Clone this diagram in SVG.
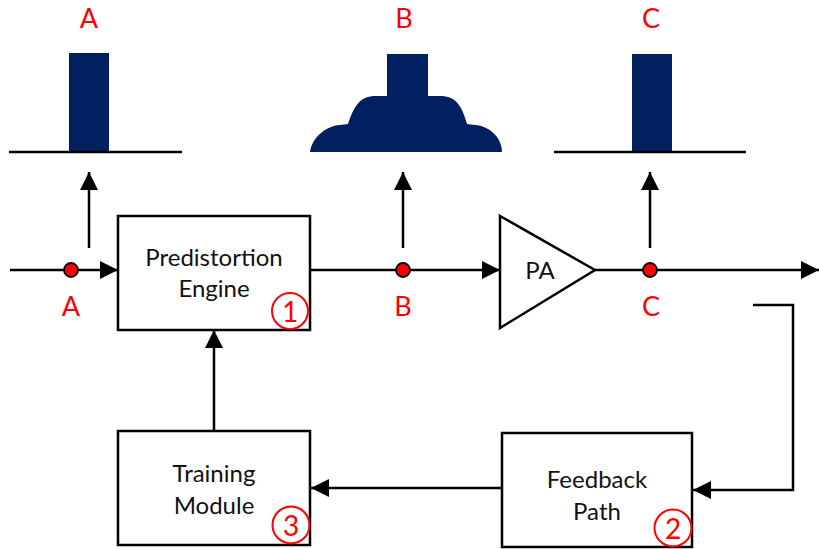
<svg xmlns="http://www.w3.org/2000/svg" width="819" height="549" viewBox="0 0 819 549">
  <style>
    .wire { fill: none; stroke: #000; stroke-width: 2.5; }
    .box { fill: #fff; stroke: #000; stroke-width: 2.5; }
    .spec { fill: #002060; }
    .base { fill: none; stroke: #000; stroke-width: 2.5; }
    .lbl { font-family: Lato, "Open Sans", sans-serif; font-size: 24px; fill: #111; text-anchor: middle; }
    .tag { font-family: Lato, "Open Sans", sans-serif; font-size: 27px; fill: #ff0000; text-anchor: middle; }
    .num { font-family: Lato, "Open Sans", sans-serif; font-size: 28px; fill: #ff0000; text-anchor: middle; }
    .ring { fill: none; stroke: #ff0000; stroke-width: 2; }
    .probe { fill: #ff0000; stroke: #000; stroke-width: 1.8; }
  </style>
  <defs>
    <marker id="arrow" markerUnits="userSpaceOnUse" markerWidth="18" markerHeight="18" viewBox="0 0 18 18" refX="18" refY="9" orient="auto">
      <path d="M0,0 L18,9 L0,18 Z" fill="#000"/>
    </marker>
  </defs>

  <rect width="819" height="549" fill="#fff"/>

  <!-- spectrum at A: single carrier -->
  <g id="spectrum-a">
    <text class="tag" x="89" y="28">A</text>
    <rect class="spec" x="69" y="53" width="40" height="99"/>
    <line class="base" x1="9" y1="152" x2="182" y2="152"/>
  </g>

  <!-- spectrum at B: carrier with predistortion sidebands -->
  <g id="spectrum-b">
    <text class="tag" x="404" y="28">B</text>
    <path class="spec" d="M310,152 C312,138 325,126 340,125 L348,124 C354,106 360,96 376,96 L387,96 L387,54 L428,54 L428,96 L440,96 C456,96 462,106 467,124 L475,125 C490,126 502,138 502,152 Z"/>
  </g>

  <!-- spectrum at C: linearised output -->
  <g id="spectrum-c">
    <text class="tag" x="651" y="28">C</text>
    <rect class="spec" x="632" y="54" width="40" height="98"/>
    <line class="base" x1="554" y1="152" x2="746" y2="152"/>
  </g>

  <!-- connectors -->
  <g id="connectors">
    <line class="wire" x1="10" y1="270" x2="118" y2="270" marker-end="url(#arrow)"/>
    <line class="wire" x1="310" y1="270" x2="500" y2="270" marker-end="url(#arrow)"/>
    <line class="wire" x1="595" y1="270" x2="819" y2="270" marker-end="url(#arrow)"/>
    <line class="wire" x1="89" y1="248" x2="89" y2="172" marker-end="url(#arrow)"/>
    <line class="wire" x1="403" y1="248" x2="403" y2="172" marker-end="url(#arrow)"/>
    <line class="wire" x1="650" y1="248" x2="650" y2="172" marker-end="url(#arrow)"/>
    <polyline class="wire" points="753,305 793,305 793,490 693,490" marker-end="url(#arrow)"/>
    <line class="wire" x1="502" y1="488" x2="311" y2="488" marker-end="url(#arrow)"/>
    <line class="wire" x1="214" y1="431" x2="214" y2="330" marker-end="url(#arrow)"/>
  </g>

  <!-- observation points -->
  <g id="point-a">
    <circle class="probe" cx="71" cy="270" r="7"/>
    <text class="tag" x="71" y="316">A</text>
  </g>
  <g id="point-b">
    <circle class="probe" cx="403" cy="270" r="7"/>
    <text class="tag" x="403" y="316">B</text>
  </g>
  <g id="point-c">
    <circle class="probe" cx="650" cy="270" r="7"/>
    <text class="tag" x="651" y="316">C</text>
  </g>

  <g id="predistortion-engine">
    <rect class="box" x="118" y="216" width="192" height="114"/>
    <text class="lbl" x="214" y="266">Predistortion</text>
    <text class="lbl" x="214" y="297">Engine</text>
    <circle class="ring" cx="290" cy="311" r="18"/>
    <text class="num" x="290" y="322">1</text>
  </g>

  <g id="pa">
    <polygon class="box" points="500,216 595,270 500,328"/>
    <text class="lbl" x="540" y="279">PA</text>
  </g>

  <g id="feedback-path">
    <rect class="box" x="502" y="433" width="190" height="114"/>
    <text class="lbl" x="597" y="488">Feedback</text>
    <text class="lbl" x="597" y="520">Path</text>
    <circle class="ring" cx="673" cy="528" r="18.5"/>
    <text class="num" x="673" y="539">2</text>
  </g>

  <g id="training-module">
    <rect class="box" x="118" y="431" width="192" height="114"/>
    <text class="lbl" x="214" y="482">Training</text>
    <text class="lbl" x="214" y="514">Module</text>
    <circle class="ring" cx="291" cy="525" r="18.5"/>
    <text class="num" x="291" y="536">3</text>
  </g>
</svg>
